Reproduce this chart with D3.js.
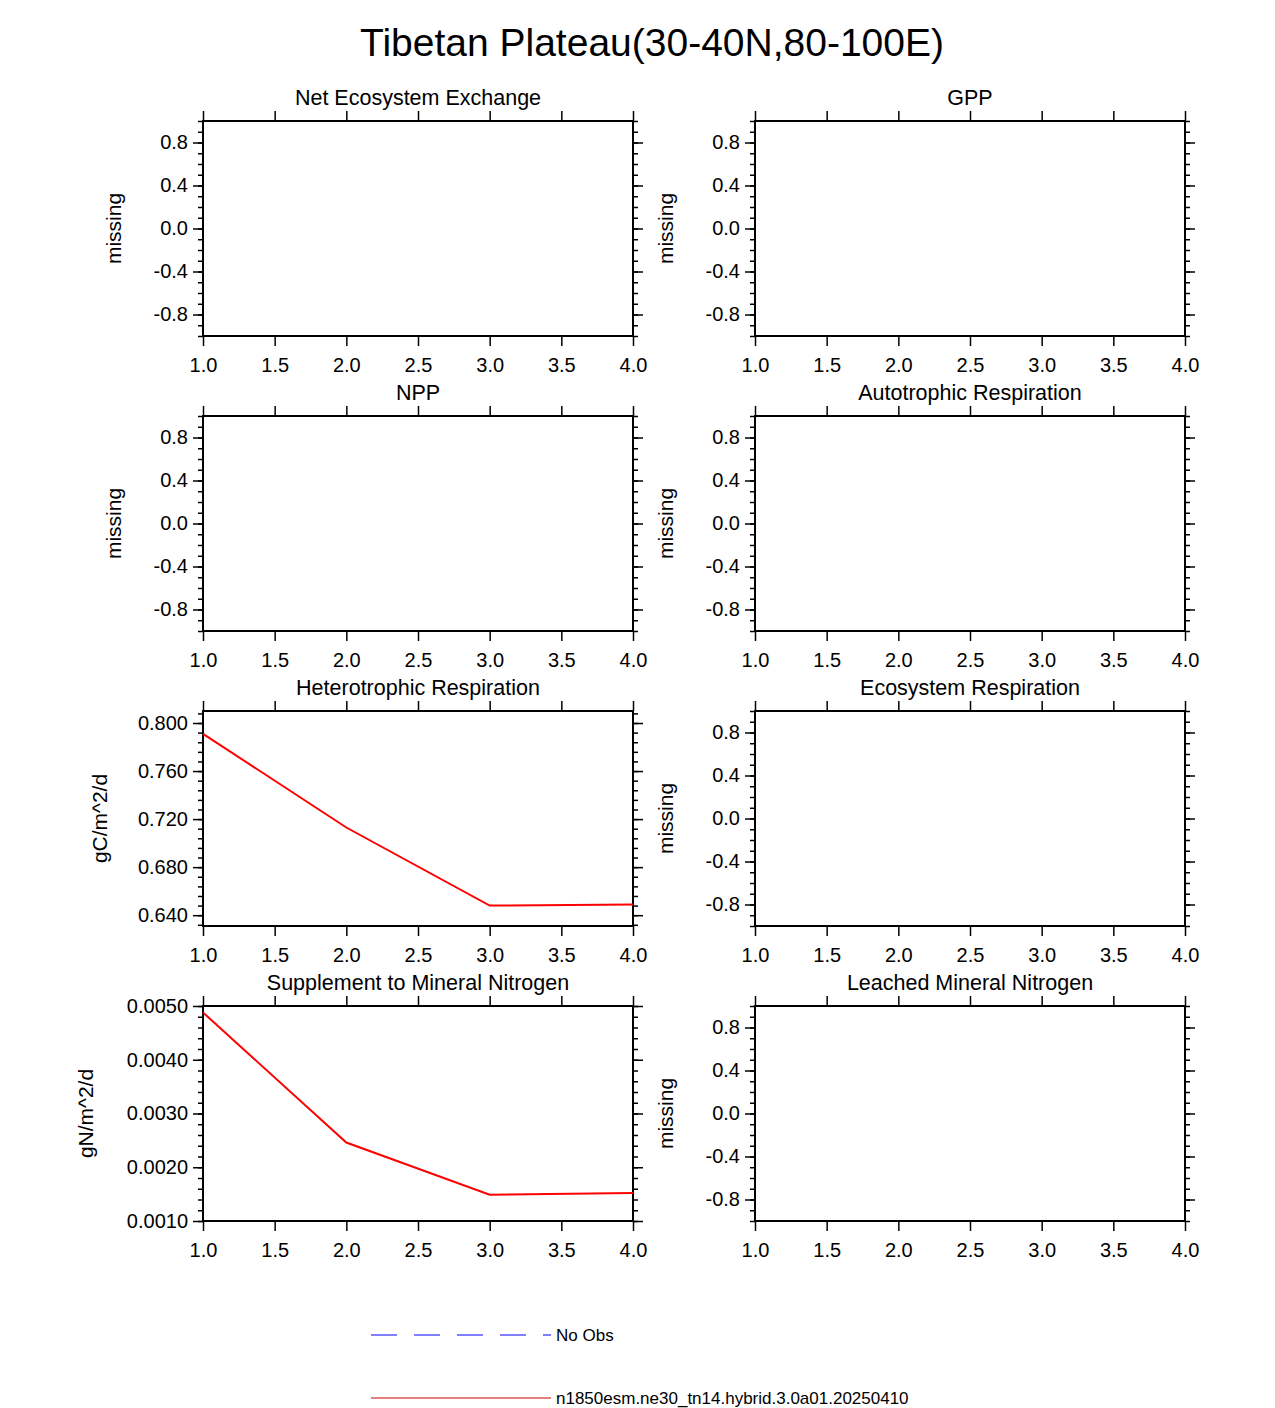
<!DOCTYPE html>
<html><head><meta charset="utf-8">
<script src="https://cdn.jsdelivr.net/npm/d3@7"></script>
<style>body{margin:0;background:#fff}text{font-family:"Liberation Sans",Arial,sans-serif;fill:#000}</style>
</head><body><svg id="c" width="1275" height="1408"></svg>
<script>
var years = [1, 2, 3, 4];
var titles = ["Net Ecosystem Exchange", "GPP", "NPP", "Autotrophic Respiration",
  "Heterotrophic Respiration", "Ecosystem Respiration", "Supplement to Mineral Nitrogen", "Leached Mineral Nitrogen"];
var units = ["missing", "missing", "missing", "missing", "gC/m^2/d", "missing", "gN/m^2/d", "missing"];
var hrValues = [0.791, 0.713, 0.648, 0.649];
var smnValues = [0.00488, 0.00246, 0.00149, 0.00152];
var xTicks = [1.0, 1.5, 2.0, 2.5, 3.0, 3.5, 4.0];
var missTicks = [0.8, 0.4, 0.0, -0.4, -0.8];
var hrTicks = [0.800, 0.760, 0.720, 0.680, 0.640];
var smnTicks = [0.0050, 0.0040, 0.0030, 0.0020, 0.0010];

function hyphen(f) { return function(d) { return f(d).replace("\u2212", "-"); }; }

var panels = titles.map(function(t, i) {
  var p = {title: t, unit: units[i], values: null, domain: [-1, 1], ticks: missTicks, minorStep: 0.1, fmt: hyphen(d3.format(".1f"))};
  if (i == 4) { p.values = hrValues; p.domain = [0.631, 0.810]; p.ticks = hrTicks; p.minorStep = 0.008; p.fmt = d3.format(".3f"); }
  if (i == 6) { p.values = smnValues; p.domain = [0.0010, 0.0050]; p.ticks = smnTicks; p.minorStep = 0.0002; p.fmt = d3.format(".4f"); }
  return p;
});

var svg = d3.select("#c");
svg.append("text").attr("x", 652).attr("y", 56).attr("text-anchor", "middle")
  .attr("font-size", 39).text("Tibetan Plateau(30-40N,80-100E)");

var colX = [203, 755], rowY = [121, 416, 711, 1006], W = 430, H = 215;

panels.forEach(function(p, i) {
  var x0 = colX[i % 2], y0 = rowY[Math.floor(i / 2)];
  var g = svg.append("g").attr("transform", "translate(" + x0 + "," + y0 + ")");
  var x = d3.scaleLinear().domain([1, 4]).range([0, W]);
  var y = d3.scaleLinear().domain(p.domain).range([H, 0]);
  var minors = d3.range(Math.ceil(p.domain[0] / p.minorStep - 1e-6), Math.floor(p.domain[1] / p.minorStep + 1e-6) + 1)
    .map(function(k) { return k * p.minorStep; });

  function styleAx(a) { a.select(".domain").remove(); a.selectAll("line").attr("stroke", "#000").attr("stroke-width", 1.5); }

  g.append("g").attr("transform", "translate(0," + H + ")")
    .call(d3.axisBottom(x).tickValues(xTicks).tickSize(10).tickPadding(12).tickFormat(d3.format(".1f")))
    .call(styleAx).selectAll("text").attr("font-size", 20).style("font-family", "Liberation Sans, Arial");
  g.append("g").call(d3.axisTop(x).tickValues(xTicks).tickSize(10).tickFormat("")).call(styleAx);
  g.append("g").call(d3.axisLeft(y).tickValues(minors).tickSize(5).tickFormat("")).call(styleAx);
  g.append("g").attr("transform", "translate(" + W + ",0)").call(d3.axisRight(y).tickValues(minors).tickSize(5).tickFormat("")).call(styleAx);
  g.append("g").call(d3.axisLeft(y).tickValues(p.ticks).tickSize(10).tickPadding(5).tickFormat(p.fmt))
    .call(styleAx).selectAll("text").attr("font-size", 20).style("font-family", "Liberation Sans, Arial");
  g.append("g").attr("transform", "translate(" + W + ",0)").call(d3.axisRight(y).tickValues(p.ticks).tickSize(10).tickFormat("")).call(styleAx);

  g.append("rect").attr("width", W).attr("height", H).attr("fill", "none").attr("stroke", "#000").attr("stroke-width", 2);

  if (p.values) {
    g.append("path").datum(p.values).attr("fill", "none").attr("stroke", "#ff0000").attr("stroke-width", 2)
      .attr("d", d3.line().x(function(d, k) { return x(years[k]); }).y(function(d) { return y(d); }));
  }

  g.append("text").attr("x", W / 2).attr("y", -16).attr("text-anchor", "middle").attr("font-size", 21.5).text(p.title);
  var lx = p.values ? (i == 6 ? -110 : -96) : -82;
  g.append("text").attr("transform", "translate(" + lx + "," + (H / 2) + ") rotate(-90)")
    .attr("text-anchor", "middle").attr("font-size", 21).text(p.unit);
});

var legend = [{label: "No Obs", color: "#0000ff", dash: "26,17", y: 1335},
  {label: "n1850esm.ne30_tn14.hybrid.3.0a01.20250410", color: "#cc0000", dash: null, y: 1398}];
legend.forEach(function(l) {
  svg.append("line").attr("x1", 371).attr("x2", 551).attr("y1", l.y).attr("y2", l.y)
    .attr("stroke", l.color).attr("stroke-width", 1.2).attr("stroke-dasharray", l.dash);
  svg.append("text").attr("x", 556).attr("y", l.y + 6).attr("font-size", 17).text(l.label);
});
</script></body></html>
